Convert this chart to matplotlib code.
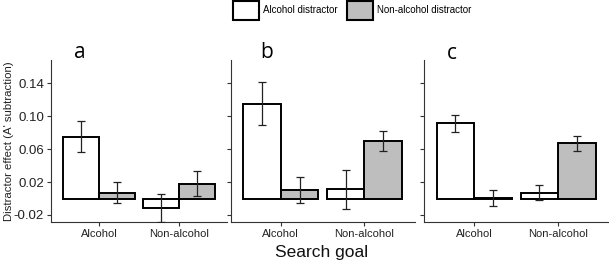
import matplotlib
matplotlib.use("Agg")
import matplotlib.pyplot as plt
import numpy as np
from matplotlib.patches import Patch

# Data
goals = ["Alcohol", "Non-alcohol"]
panels = ["a", "b", "c"]
alcohol_distractor = {
    "a": [0.075, -0.011],
    "b": [0.115, 0.011],
    "c": [0.091, 0.007],
}
alcohol_distractor_err = {
    "a": [0.019, 0.017],
    "b": [0.026, 0.024],
    "c": [0.010, 0.009],
}
nonalcohol_distractor = {
    "a": [0.007, 0.018],
    "b": [0.010, 0.070],
    "c": [0.0005, 0.067],
}
nonalcohol_distractor_err = {
    "a": [0.013, 0.015],
    "b": [0.016, 0.012],
    "c": [0.010, 0.009],
}
yticks = [-0.02, 0.02, 0.06, 0.10, 0.14]
ytick_labels = ["-0.02", "0.02", "0.06", "0.10", "0.14"]

W, H = 609, 263
fig = plt.figure(figsize=(W / 100, H / 100), dpi=100)

ax_px = [(51, 226.5), (230.5, 414.5), (424, 608.7)]
top_px, bot_px = 60, 222
sans = ["Liberation Sans", "DejaVu Sans"]
axis_col = "#333333"
gray = "#bebebe"

x = np.arange(1, len(goals) + 1)
bw = 0.45
axes = []
for i, p in enumerate(panels):
    l, r = ax_px[i]
    ax = fig.add_axes([l / W, (H - bot_px) / H, (r - l) / W, (bot_px - top_px) / H])
    axes.append(ax)
    ax.bar(x - bw / 2, alcohol_distractor[p], width=bw, color="white",
           edgecolor="black", linewidth=1.4, zorder=2)
    ax.bar(x + bw / 2, nonalcohol_distractor[p], width=bw, color=gray,
           edgecolor="black", linewidth=1.4, zorder=2)
    ax.errorbar(x - bw / 2, alcohol_distractor[p], yerr=alcohol_distractor_err[p],
                fmt="none", ecolor="#222222", elinewidth=0.9, capsize=3, capthick=0.9, zorder=3)
    ax.errorbar(x + bw / 2, nonalcohol_distractor[p], yerr=nonalcohol_distractor_err[p],
                fmt="none", ecolor="#222222", elinewidth=0.9, capsize=3, capthick=0.9, zorder=3)
    ax.set_xlim(0.4, 2.6)
    ax.set_ylim(-0.0285, 0.168)
    ax.set_xticks(x)
    ax.set_xticklabels(goals, fontsize=8, family=sans, color="#222222")
    ax.set_yticks(yticks)
    if i == 0:
        ax.set_yticklabels(ytick_labels, fontsize=9.5, family=sans, color="#222222")
    else:
        ax.set_yticklabels([])
    for s in ["top", "right"]:
        ax.spines[s].set_visible(False)
    for s in ["left", "bottom"]:
        ax.spines[s].set_color(axis_col)
        ax.spines[s].set_linewidth(0.8)
    ax.tick_params(axis="both", length=3, width=0.8, color=axis_col, pad=2)
    ax.patch.set_alpha(0)

fig.text(9 / W, 1 - 141 / H, "Distractor effect (A' subtraction)", fontsize=8.2,
         family=sans, color="#222222", rotation=90, ha="center", va="center")

label_px = [(80, 52), (266.7, 52), (451.7, 53)]
for i, p in enumerate(panels):
    fig.text(label_px[i][0] / W, 1 - label_px[i][1] / H, p, fontsize=15,
             family=["Open Sans", "DejaVu Sans"], ha="center", va="center")

fig.text(322 / W, 1 - 253 / H, "Search goal", fontsize=12.5, family=sans,
         ha="center", va="center", color="#111111")

handles = [Patch(facecolor="white", edgecolor="black", linewidth=1.5, label="Alcohol distractor"),
           Patch(facecolor=gray, edgecolor="black", linewidth=1.5, label="Non-alcohol distractor")]
fig.legend(handles=handles, loc="upper center", bbox_to_anchor=(352 / W, 1 - 1 / H),
           ncol=2, frameon=False, prop={"family": sans, "size": 7},
           handlelength=2.7, handleheight=2.6, handletextpad=0.4, columnspacing=1.0,
           borderpad=0, borderaxespad=0)

fig.savefig("out.png", dpi=100)
